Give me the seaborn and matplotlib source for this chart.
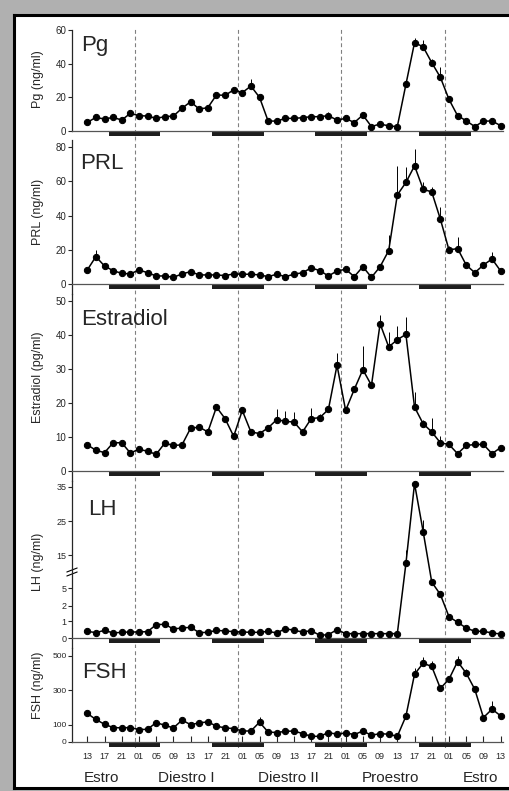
import numpy as np
import seaborn as sns
import matplotlib
matplotlib.use("Agg")
import matplotlib.pyplot as plt
import matplotlib.transforms as mtransforms
from matplotlib.patches import Rectangle
from matplotlib.lines import Line2D

# sampling every 2 h, starting at 13:00 of estrus
hours = np.arange(0, 97, 2)
tick_hours = np.arange(0, 97, 4)
tick_labels = ['13', '17', '21', '01', '05', '09'] * 4 + ['13']
dark_start = [5, 29, 53, 77]          # lights off 18:00 -> 06:00
midnights = [11, 35, 59, 83]
phases = ['Estro', 'Diestro I', 'Diestro II', 'Proestro', 'Estro']
phase_hours = [3.4, 22.9, 46.6, 70.3, 91.2]

pg = [5.1, 8.1, 7.1, 8.1, 6.5, 10.5, 9.1, 8.9, 7.5, 8.5, 8.9, 13.5, 17.4, 13, 13.9, 21.4, 21.2, 24.4, 22.8, 26.7, 20,
      5.9, 5.9, 7.5, 7.5, 7.9, 8.5, 8.5, 9.1, 6.5, 7.5, 5, 9.5, 2.6, 4.2, 3, 2.6,
      27.7, 52.5, 50, 40.6, 31.9, 18.8, 9.1, 6.1, 2.6, 5.9, 5.9, 3.2]
pg_err = [0, 0, 0, 0, 0, 1, 0, 0, 0, 0, 0, 1, 1, 0, 0, 1, 1, 1, 1, 4, 1,
          0, 0, 1, 0, 1, 1, 1, 2, 1, 1, 0, 1, 0, 0, 0, 0,
          2, 3, 4, 2, 6, 2, 1, 1, 0, 0, 0, 0]

prl = [8.2, 16, 10.5, 7.8, 6.2, 5.9, 8.2, 6.6, 4.7, 4.7, 3.9, 5.9, 7.2, 5.3, 5.3, 5.3, 4.9, 5.9, 5.7, 5.7, 5.3,
       4.3, 5.7, 4.3, 5.7, 6.6, 9.4, 7.8, 4.7, 7.6, 8.6, 4.3, 10.1, 3.9, 10.1, 19.5, 52,
       59.3, 69, 55.4, 53.7, 37.9, 19.9, 20.7, 11.1, 6.6, 11.1, 14.6, 7.6]
prl_err = [0, 4, 1, 0, 0, 0, 1, 0, 0, 0, 0, 0, 1, 0, 0, 0, 0, 0, 0, 0, 0,
           0, 0, 0, 0, 0, 1, 0, 0, 0, 1, 0, 1, 0, 1, 9, 17,
           9, 10, 4, 3, 7, 2, 7, 1, 0, 2, 4, 1]

estradiol = [7.7, 6.1, 5.4, 8.3, 8.3, 5.3, 6.4, 5.8, 4.9, 8.2, 7.5, 7.7, 12.6, 12.9, 11.5, 18.8, 15.4, 10.2, 17.8, 11.5, 11.0,
             12.7, 15.1, 14.6, 14.4, 11.5, 15.4, 15.7, 18.1, 31.1, 17.8, 24, 29.8, 25.2, 43.3, 36.5, 38.6,
             40.2, 18.8, 13.9, 11.5, 8.3, 7.8, 5.1, 7.5, 7.8, 7.8, 5.1, 6.9]
estradiol_err = [0, 0, 0, 0, 0, 0, 0, 0, 0, 0, 0, 0, 1, 1, 1, 1, 0, 0, 1, 0, 0,
                 0, 3, 3, 3, 0, 3, 1, 1, 3.5, 0, 1, 7, 1, 2.5, 4.5, 4,
                 5, 4.5, 1, 4, 2, 1, 0, 1, 0, 0, 0, 0]

lh = [0.4, 0.32, 0.46, 0.3, 0.34, 0.36, 0.36, 0.38, 0.8, 0.82, 0.54, 0.6, 0.64, 0.32, 0.34, 0.46, 0.42, 0.38, 0.36, 0.34, 0.34,
      0.4, 0.3, 0.56, 0.46, 0.36, 0.44, 0.16, 0.2, 0.5, 0.26, 0.26, 0.26, 0.26, 0.26, 0.26, 0.26,
      12.5, 36, 22, 6.8, 3.9, 1.3, 0.94, 0.6, 0.4, 0.4, 0.3, 0.24]
lh_err = [0] * 37 + [4, 0.5, 3.5, 0.5, 0.5, 0.2, 0, 0, 0, 0, 0, 0]

fsh = [166, 131, 103, 84, 82, 84, 72, 74, 113, 97, 82, 127, 101, 111, 117, 92, 82, 78, 64, 64, 115,
       58, 55, 62, 64, 49, 33, 33, 55, 45, 53, 43, 64, 39, 49, 45, 33,
       150, 394, 458, 439, 312, 365, 468, 400, 306, 142, 191, 152]
fsh_err = [15, 0, 0, 0, 0, 0, 0, 0, 0, 0, 0, 15, 0, 0, 10, 0, 0, 0, 0, 0, 30,
           0, 0, 0, 0, 0, 0, 0, 0, 0, 0, 10, 0, 0, 0, 0, 0,
           10, 35, 35, 30, 10, 15, 30, 25, 10, 10, 45, 15]

lh_ticks = [0, 1, 2, 5, 15, 25, 35]

# broken LH axis: piecewise linear scale
lh_knots = [-100, 0, 1, 2, 5, 15, 25, 35, 1000]
lh_pos = [-1670, 0, 16.7, 32.3, 50, 82.7, 116.7, 151, 151 + 965 * 3.45]


def lh_fwd(v):
    return np.interp(v, lh_knots, lh_pos)


def lh_inv(p):
    return np.interp(p, lh_pos, lh_knots)


sns.set_style('ticks')
plt.rcParams['font.family'] = ['Liberation Sans', 'DejaVu Sans']

W, H = 509, 791
fig = plt.figure(figsize=(W / 100, H / 100), dpi=100)
fig.patch.set_facecolor('#b0b0b0')

# white sheet with a thick black border on left, top and bottom
sheet = Rectangle((14.2 / W, 1 - 787.5 / H), 1.0, (787.5 - 14.5) / H,
                  transform=fig.transFigure, facecolor='white', edgecolor='none',
                  zorder=-10)
fig.add_artist(sheet)
for xs, ys in [([14.2, 14.2], [14.5, 787.5]),
               ([14.2, W + 5], [14.5, 14.5]),
               ([14.2, W + 5], [787.5, 787.5])]:
    fig.add_artist(Line2D([x / W for x in xs], [1 - y / H for y in ys],
                          transform=fig.transFigure, color='black', lw=2.2,
                          solid_capstyle='projecting', zorder=-9))

# panel layout in pixels: (top, bottom, zero_px, top tick px, top tick value)
panels = [
    dict(name='Pg', ylabel='Pg (ng/ml)', y=pg, err=pg_err, ticks=[0, 20, 40, 60],
         top=29, bottom=140, zero=131, tpx=30, tval=60, title_xy=(81, 51), ylab_y=79, fs=7),
    dict(name='PRL', ylabel='PRL (ng/ml)', y=prl, err=prl_err, ticks=[0, 20, 40, 60, 80],
         top=140, bottom=294, zero=284, tpx=147, tval=80, title_xy=(80, 169), ylab_y=212, fs=7),
    dict(name='Estradiol', ylabel='Estradiol (pg/ml)', y=estradiol, err=estradiol_err,
         ticks=[0, 10, 20, 30, 40, 50],
         top=294, bottom=481, zero=471, tpx=301, tval=50, title_xy=(81, 325), ylab_y=377, fs=7),
    dict(name='LH', ylabel='LH (ng/ml)', y=lh, err=lh_err, ticks=lh_ticks,
         top=481, bottom=648, zero=638, tpx=487, tval=35, title_xy=(88, 515), ylab_y=562, fs=6.5),
    dict(name='FSH', ylabel='FSH (ng/ml)', y=fsh, err=fsh_err, ticks=[0, 100, 300, 500],
         top=648, bottom=748, zero=742, tpx=656, tval=500, title_xy=(82, 678), ylab_y=685, fs=6),
]

x_left, x_right = 72, 502.8
xlim = (-3.55, 96.5)

for k, p in enumerate(panels):
    ax = fig.add_axes([x_left / W, 1 - p['bottom'] / H, (x_right - x_left) / W,
                       (p['bottom'] - p['top']) / H])
    ax.set_facecolor('none')
    ax.set_xlim(*xlim)
    if p['name'] == 'LH':
        ax.set_yscale('function', functions=(lh_fwd, lh_inv))
        ax.set_ylim(lh_inv(-(p['bottom'] - p['zero'])), lh_inv(p['zero'] - p['top']))
    else:
        ppu = (p['zero'] - p['tpx']) / p['tval']
        ax.set_ylim(-(p['bottom'] - p['zero']) / ppu, (p['zero'] - p['top']) / ppu)

    # midnight reference lines
    for m in midnights:
        ax.axvline(m, color='#808080', lw=0.8, dashes=(3.5, 2.5), zorder=1)

    # dark phase bars just under the baseline
    hax = p['bottom'] - p['top']
    b0 = (p['bottom'] - (p['zero'] + 4.8)) / hax
    b1 = (p['bottom'] - (p['zero'] + 0.6)) / hax
    ax.broken_barh([(s, 12) for s in dark_start], (b0, b1 - b0),
                   transform=ax.get_xaxis_transform(), facecolor='#1e1e1e',
                   edgecolor='none', zorder=2)

    ax.errorbar(hours, p['y'], yerr=[np.zeros(len(hours)), p['err']], fmt='none',
                ecolor='black', elinewidth=0.7, capsize=0, zorder=3, clip_on=False)
    sns.lineplot(x=hours, y=p['y'], ax=ax, color='black', marker='o', markersize=4.5,
                 markeredgecolor='black', linewidth=1.1, errorbar=None, zorder=4,
                 clip_on=False)

    ax.spines['top'].set_visible(False)
    ax.spines['right'].set_visible(False)
    ax.spines['bottom'].set_position(('data', 0))
    ax.spines['bottom'].set_color('#555555')
    ax.spines['bottom'].set_linewidth(0.9)
    ax.spines['left'].set_linewidth(0.9)
    if p['name'] == 'Pg':
        ax.spines['left'].set_bounds(0, 60)
    if p['name'] == 'FSH':
        ax.spines['left'].set_bounds(0, ax.get_ylim()[1])

    ax.set_yticks(p['ticks'])
    ax.set_yticklabels([str(t) for t in p['ticks']])
    ax.tick_params(axis='y', direction='out', length=3, width=0.8, pad=1,
                   labelsize=p['fs'])
    ax.set_ylabel('')
    ax.set_xlabel('')

    if p['name'] == 'FSH':
        ax.set_xticks(tick_hours)
        ax.set_xticklabels(tick_labels)
        ax.tick_params(axis='x', direction='in', length=4, width=0.8, pad=7,
                       labelsize=6.5)
        trans = mtransforms.blended_transform_factory(ax.transData, fig.transFigure)
        for lab, ph in zip(phases, phase_hours):
            ax.text(ph, 1 - 781.5 / H, lab, transform=trans, ha='center',
                    va='baseline', fontsize=11)
    else:
        ax.tick_params(axis='x', bottom=False, labelbottom=False)

    if p['name'] == 'LH':
        # axis break mark between 5 and 15
        yb = (p['bottom'] - 572) / hax
        for dy in (-0.012, 0.012):
            ax.plot([-0.012, 0.012], [yb + dy - 0.012, yb + dy + 0.012],
                    transform=ax.transAxes, color='black', lw=0.8, clip_on=False)

    tx, ty = p['title_xy']
    fig.text(tx / W, 1 - ty / H, p['name'], fontsize=16, ha='left', va='baseline')
    fig.text(38 / W, 1 - p['ylab_y'] / H, p['ylabel'], rotation=90, ha='center',
             va='center', fontsize=9)

fig.savefig('out.png', dpi=100, facecolor=fig.get_facecolor())
